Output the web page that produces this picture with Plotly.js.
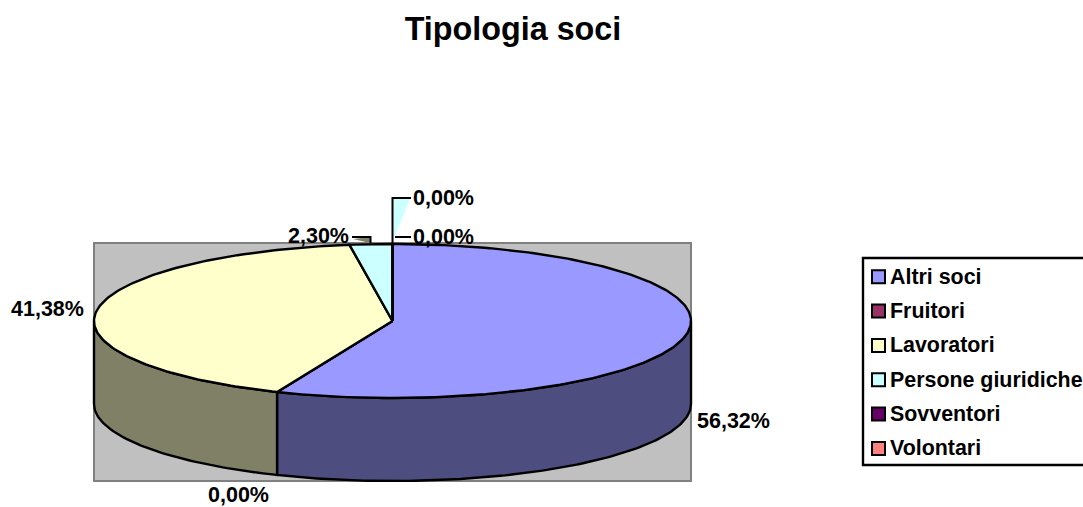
<!DOCTYPE html>
<html><head><meta charset="utf-8">
<script src="https://cdn.plot.ly/plotly-3.0.1.min.js"></script>
<style>html,body{margin:0;padding:0;background:#fff;overflow:hidden}</style>
</head><body><div id="chart" style="width:1083px;height:507px"></div>
<script>
const categories = ["Altri soci","Fruitori","Lavoratori","Persone giuridiche","Sovventori","Volontari"];
const shares = [56.32,0,41.38,2.30,0,0];
const topColors = ["#9999FF","#993366","#FFFFCC","#CCFFFF","#660066","#FF8080"];
const sideColors = ["#4D4D80","#4D1A33","#808066","#668080","#330033","#804040"];
const labelPos = [[695,421,"left"],[206,494.5,"left"],[9,309,"left"],[286,236,"left"],[411,198,"left"],[411,237,"left"]];

const cx=392.5, cy=321, rx=298.5, ry=77, depth=83;
const font="Liberation Sans, Arial, sans-serif";
const pt=(deg,dz)=>{const r=deg*Math.PI/180;return [cx+rx*Math.sin(r), cy-ry*Math.cos(r)+(dz||0)];};
const arc=(a,b,dz)=>{const out=[];const n=Math.max(1,Math.ceil(Math.abs(b-a)));for(let i=0;i<=n;i++)out.push(pt(a+(b-a)*i/n,dz));return out;};
const poly=(pts,fill,name)=>({type:"scatter",mode:"lines",x:pts.map(p=>p[0]),y:pts.map(p=>p[1]),fill:"toself",fillcolor:fill,line:{color:"#000",width:2.4,shape:"linear"},hoverinfo:"skip",name:name,showlegend:false});

const traces=[];
let a=0; const spans=shares.map(v=>{const s=[a,a+v*3.6];a=s[1];return s;});
spans.forEach((s,i)=>{
  const lo=Math.max(s[0],90),hi=Math.min(s[1],270);
  if(hi>lo){const pts=arc(lo,hi,0).concat(arc(hi,lo,depth));pts.push(pts[0]);traces.push(poly(pts,sideColors[i],categories[i]+" lato"));}
});
spans.forEach((s,i)=>{
  const pts=[[cx,cy]].concat(arc(s[0],s[1],0));pts.push([cx,cy]);traces.push(poly(pts,topColors[i],categories[i]));
});
const wedges=[[[393,241],[410,198.5],[393,198.5],"#CCFFFF"],[[353,239],[370,237],[370,243],"#808066"]];
wedges.forEach(w=>{const p=[w[0],w[1],w[2],w[0]];traces.push({type:"scatter",mode:"lines",x:p.map(q=>q[0]),y:p.map(q=>q[1]),fill:"toself",fillcolor:w[3],line:{width:0},hoverinfo:"skip",showlegend:false});});
const leaders=[[[392.5,243],[392.5,198],[411,198]],[[395,237],[411,237]],[[352,237],[370.5,237],[370.5,243]]];
leaders.forEach(l=>traces.push({type:"scatter",mode:"lines",x:l.map(q=>q[0]),y:l.map(q=>q[1]),line:{color:"#000",width:2},hoverinfo:"skip",showlegend:false}));
const legendY=categories.map((c,i)=>276.7+i*34.35);
traces.push({type:"scatter",mode:"markers",x:categories.map(()=>878.5),y:legendY,marker:{symbol:"square",size:13,color:topColors,line:{color:"#000",width:2}},hoverinfo:"skip",showlegend:false});

const fmt=v=>v.toFixed(2).replace(".",",")+"%";
const annotations=shares.map((v,i)=>({x:labelPos[i][0],y:labelPos[i][1],xref:"x",yref:"y",text:"<b>"+fmt(v)+"</b>",showarrow:false,xanchor:labelPos[i][2],yanchor:"middle",font:{family:font,size:21.5,color:"#000"}}));
categories.forEach((c,i)=>annotations.push({x:888,y:legendY[i],xref:"x",yref:"y",text:"<b>"+c+"</b>",showarrow:false,xanchor:"left",yanchor:"middle",font:{family:font,size:21.4,color:"#000"}}));

const layout={width:1083,height:507,autosize:false,margin:{l:0,r:0,t:0,b:0},paper_bgcolor:"#fff",plot_bgcolor:"#fff",showlegend:false,
  title:{text:"<b>Tipologia soci</b>",x:513/1083,xanchor:"center",y:1-29/507,yanchor:"middle",font:{family:font,size:32.3,color:"#000"}},
  xaxis:{range:[0,1083],visible:false,fixedrange:true},
  yaxis:{range:[507,0],visible:false,fixedrange:true},
  shapes:[
   {type:"rect",xref:"x",yref:"y",x0:94,x1:691,y0:243,y1:481,fillcolor:"#C0C0C0",line:{color:"#808080",width:2},layer:"below"},
   {type:"rect",xref:"x",yref:"y",x0:863,x1:1095,y0:258,y1:465,fillcolor:"#fff",line:{color:"#000",width:2.4},layer:"below"}
  ],
  annotations:annotations};
Plotly.newPlot("chart",traces,layout,{displayModeBar:false,staticPlot:true});
</script></body></html>
